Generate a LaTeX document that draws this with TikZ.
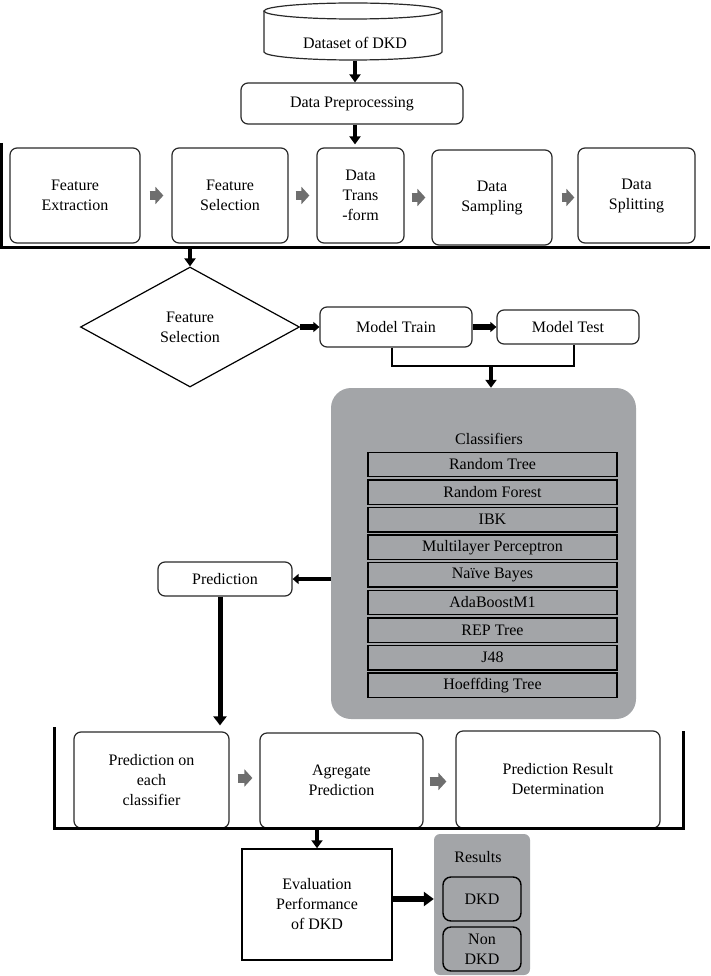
\documentclass[tikz,border=0pt]{standalone}
\usepackage{fontspec}
\setmainfont{Liberation Serif}
\newfontfamily\diagfont{Liberation Serif}
\usetikzlibrary{shapes.geometric,arrows.meta}
\definecolor{panelgray}{HTML}{A3A5A8}
\definecolor{arrgray}{HTML}{6E6E6E}
\definecolor{boxline}{HTML}{2A2A2A}
\tikzset{
  rbox/.style={draw=boxline, line width=1.2pt, rounded corners=7pt, fill=white, align=center, inner sep=0pt},
  rowbox/.style={draw=black, line width=1.4pt, fill=panelgray, minimum width=249pt, minimum height=24.5pt, inner sep=0pt},
  resbox/.style={draw=black, line width=1.4pt, rounded corners=8pt, fill=panelgray, minimum width=78pt, minimum height=44pt, inner sep=0pt, align=center},
  barrow/.style={draw=black, line width=4.5pt, -{Triangle[width=11pt,length=8pt]}},
  fatarrow/.style={draw=black, line width=6pt, -{Triangle[width=10pt,length=6pt]}},
  garrow/.style={draw=arrgray, line width=9pt, -{Triangle[width=17pt,length=8pt]}},
  bracket/.style={draw=black, line width=3pt},
  lbl/.style={inner sep=0pt, align=center}
}
\begin{document}
\begin{tikzpicture}[x=1pt,y=-1pt,font=\diagfont\fontsize{16}{20}\selectfont]
\useasboundingbox (0,0) rectangle (710,976);
% cylinder
\draw[boxline, line width=1.2pt, fill=white] (264,11) -- (264,52) arc[start angle=180, end angle=360, x radius=89pt, y radius=8pt] -- (442,11);
\draw[boxline, line width=1.2pt, fill=white] (353,11) ellipse [x radius=89pt, y radius=8pt];
\node[lbl] (db) at (355,43) {Dataset of DKD};
\coordinate (dbb) at (355,61);
% preprocessing
\node[rbox, minimum width=222pt, minimum height=41pt] (pre) at (352,103.5) {Data Preprocessing};
% top row
\node[rbox, minimum width=130pt, minimum height=95pt] (fe) at (75,195.5) {Feature\\Extraction};
\node[rbox, minimum width=116pt, minimum height=95pt] (fs) at (230,195.5) {Feature\\Selection};
\node[rbox, minimum width=87pt, minimum height=95pt] (dt) at (360.5,195.5) {Data\\Trans\\-form};
\node[rbox, minimum width=120pt, minimum height=95pt] (ds) at (492,197.5) {Data\\Sampling};
\node[rbox, minimum width=117pt, minimum height=95pt] (dsp) at (636.5,195.5) {Data\\Splitting};
\draw[bracket] (1,143) -- (1,247) -- (710,247);
\coordinate (tb) at (190,247);
% diamond and models
\node[diamond, draw=black, line width=1.2pt, aspect=1.825, minimum width=219pt, minimum height=120pt, inner sep=0pt, align=center] (fsd) at (190,327) {Feature\\Selection};
\node[rbox, minimum width=152pt, minimum height=40pt] (mtr) at (396,327) {Model Train};
\node[rbox, minimum width=142pt, minimum height=34pt] (mte) at (568,327) {Model Test};
\coordinate (jn) at (491,366);
% classifiers panel
\node[fill=panelgray, rounded corners=20pt, minimum width=305pt, minimum height=331pt, inner sep=0pt] (cls) at (483.5,553.5) {};
\node[lbl] (clst) at (489,439) {Classifiers};
\node[rowbox] (c1) at (492.5,464.5) {Random Tree};
\node[rowbox] (c2) at (492.5,492.1) {Random Forest};
\node[rowbox] (c3) at (492.5,519.7) {IBK};
\node[rowbox] (c4) at (492.5,547.3) {Multilayer Perceptron};
\node[rowbox] (c5) at (492.5,574.9) {Naïve Bayes};
\node[rowbox] (c6) at (492.5,602.5) {AdaBoostM1};
\node[rowbox] (c7) at (492.5,630.1) {REP Tree};
\node[rowbox] (c8) at (492.5,657.7) {J48};
\node[rowbox] (c9) at (492.5,685.3) {Hoeffding Tree};
% prediction
\node[rbox, minimum width=134pt, minimum height=34pt] (pred) at (225,579) {Prediction};
% bottom row
\node[rbox, minimum width=155pt, minimum height=96pt] (pec) at (151.5,780) {Prediction on\\each\\classifier};
\node[rbox, minimum width=163pt, minimum height=95pt] (agg) at (341.5,780.5) {Agregate\\Prediction};
\node[rbox, minimum width=204pt, minimum height=97pt] (prd) at (558,779.5) {Prediction Result\\Determination};
\draw[bracket] (54,727) -- (54,828) -- (683,828) -- (683,731);
\coordinate (bb) at (317,828);
% evaluation and results
\node[draw=black, line width=1.5pt, fill=white, minimum width=150pt, minimum height=111pt, inner sep=0pt, align=center] (ev) at (317,904.5) {Evaluation\\Performance\\of DKD};
\node[fill=panelgray, rounded corners=6pt, minimum width=96pt, minimum height=141pt, inner sep=0pt] (res) at (482,904.5) {};
\node[lbl] (rest) at (478,857) {Results};
\node[resbox] (dkd) at (482,899) {DKD};
\node[resbox] (ndkd) at (482,949) {Non\\DKD};
% connectors
\draw[barrow] (dbb) -- (dbb |- pre.north);
\draw[barrow, shorten >=3pt] ([xshift=3pt]pre.south) -- ([xshift=3pt]pre.south |- dt.north);
\draw[garrow, shorten <=9pt, shorten >=8pt] (fe.east) -- (fe.east -| fs.west);
\draw[garrow, shorten <=7pt, shorten >=7pt] (fs.east) -- (fs.east -| dt.west);
\draw[garrow, shorten <=7pt, shorten >=6pt] (dt.east |- ds.east) -- (ds.west);
\draw[garrow, shorten <=9pt, shorten >=3pt] (ds.east) -- (ds.east -| dsp.west);
\draw[barrow] (tb) -- (fsd.north);
\draw[fatarrow] (fsd.east) -- (mtr.west);
\draw[fatarrow] (mtr.east) -- (mte.west);
\draw[black, line width=2.5pt] ([xshift=-4pt]mtr.south) |- (jn) -| ([xshift=6pt]mte.south);
\draw[barrow] (jn) -- (jn |- cls.north);
\draw[black, line width=4pt, -{Triangle[width=10pt,length=6pt]}] (cls.west |- pred.east) -- (pred.east);
\draw[black, line width=5pt, -{Triangle[width=13pt,length=9pt]}, shorten >=6pt] ([xshift=-5pt]pred.south) -- ([xshift=-5pt]pred.south |- pec.north);
\draw[garrow, shorten <=8pt, shorten >=7pt] ([yshift=2pt]pec.east) -- ([yshift=2pt]pec.east -| agg.west);
\draw[garrow, shorten <=6pt, shorten >=9pt] ([yshift=-1pt]agg.east) -- ([yshift=-1pt]agg.east -| prd.west);
\draw[barrow] (bb) -- (ev.north);
\draw[black, line width=6pt, -{Triangle[width=14pt,length=10pt]}] (ev.east |- dkd) -- (res.west |- dkd);
\end{tikzpicture}
\end{document}
